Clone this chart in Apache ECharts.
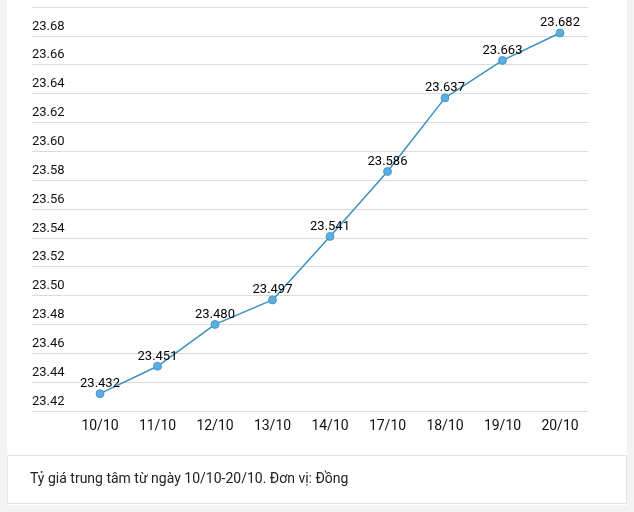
<!DOCTYPE html>
<html>
<head>
<meta charset="utf-8">
<script src="https://cdn.jsdelivr.net/npm/echarts@6/dist/echarts.min.js"></script>
<style>
html,body{margin:0;padding:0;background:#f3f3f3;}
#c{width:634px;height:512px;}
</style>
</head>
<body>
<div id="c"></div>
<script>
const categories = ['10/10','11/10','12/10','13/10','14/10','17/10','18/10','19/10','20/10'];
const rates = [23.432, 23.451, 23.480, 23.497, 23.541, 23.586, 23.637, 23.663, 23.682];
const yMin = 23.42, yMax = 23.70, yStep = 0.02;
const caption = 'Tỷ giá trung tâm từ ngày 10/10-20/10. Đơn vị: Đồng';

const chart = echarts.init(document.getElementById('c'), null, {renderer:'canvas'});
const font = 'Roboto';
chart.setOption({
  backgroundColor: '#f3f3f3',
  animation: false,
  textStyle: {fontFamily: font},
  graphic: [
    {type:'rect', z:-10, shape:{x:7, y:0, width:620, height:505}, style:{fill:'#ffffff'}},
    {type:'rect', z:-9, shape:{x:7.5, y:455.5, width:619, height:48}, style:{fill:'#ffffff', stroke:'#e2e2e2', lineWidth:1}},
    {type:'text', left:30, top:472, style:{text:caption, fill:'#222', font:'14px Roboto'}}
  ],
  grid: [
    {left:71.25, top:7, width:517.5, height:404, containLabel:false},
    {left:32, top:7, width:556, height:404, containLabel:false}
  ],
  xAxis: [
    {type:'category', gridIndex:0, data:categories, boundaryGap:true,
     axisLine:{show:false}, axisTick:{show:false},
     axisLabel:{color:'#111', fontSize:14, margin:8, fontFamily:font}},
    {type:'category', gridIndex:1, data:[''], show:false}
  ],
  yAxis: [
    {type:'value', gridIndex:0, min:yMin, max:yMax, interval:yStep, show:false},
    {type:'value', gridIndex:1, min:yMin, max:yMax, interval:yStep,
     axisLine:{show:false}, axisTick:{show:false},
     splitLine:{show:true, lineStyle:{color:'#dcdcdc', width:1}},
     axisLabel:{inside:true, margin:0, color:'#111', fontSize:13, fontFamily:font,
       verticalAlign:'bottom', padding:[0,0,3,0], showMaxLabel:false,
       formatter: v => v.toFixed(2)}}
  ],
  series: [{
    type:'line', xAxisIndex:0, yAxisIndex:0, data:rates,
    symbol:'circle', symbolSize:8,
    lineStyle:{color:'#3b8fc0', width:1.5},
    itemStyle:{color:'#5aaee0', borderColor:'#3b8fc0', borderWidth:0.8},
    label:{show:true, position:'top', distance:-1, color:'#000', fontSize:13, fontFamily:font,
      formatter: p => p.value.toFixed(3)}
  }]
});
</script>
</body>
</html>
